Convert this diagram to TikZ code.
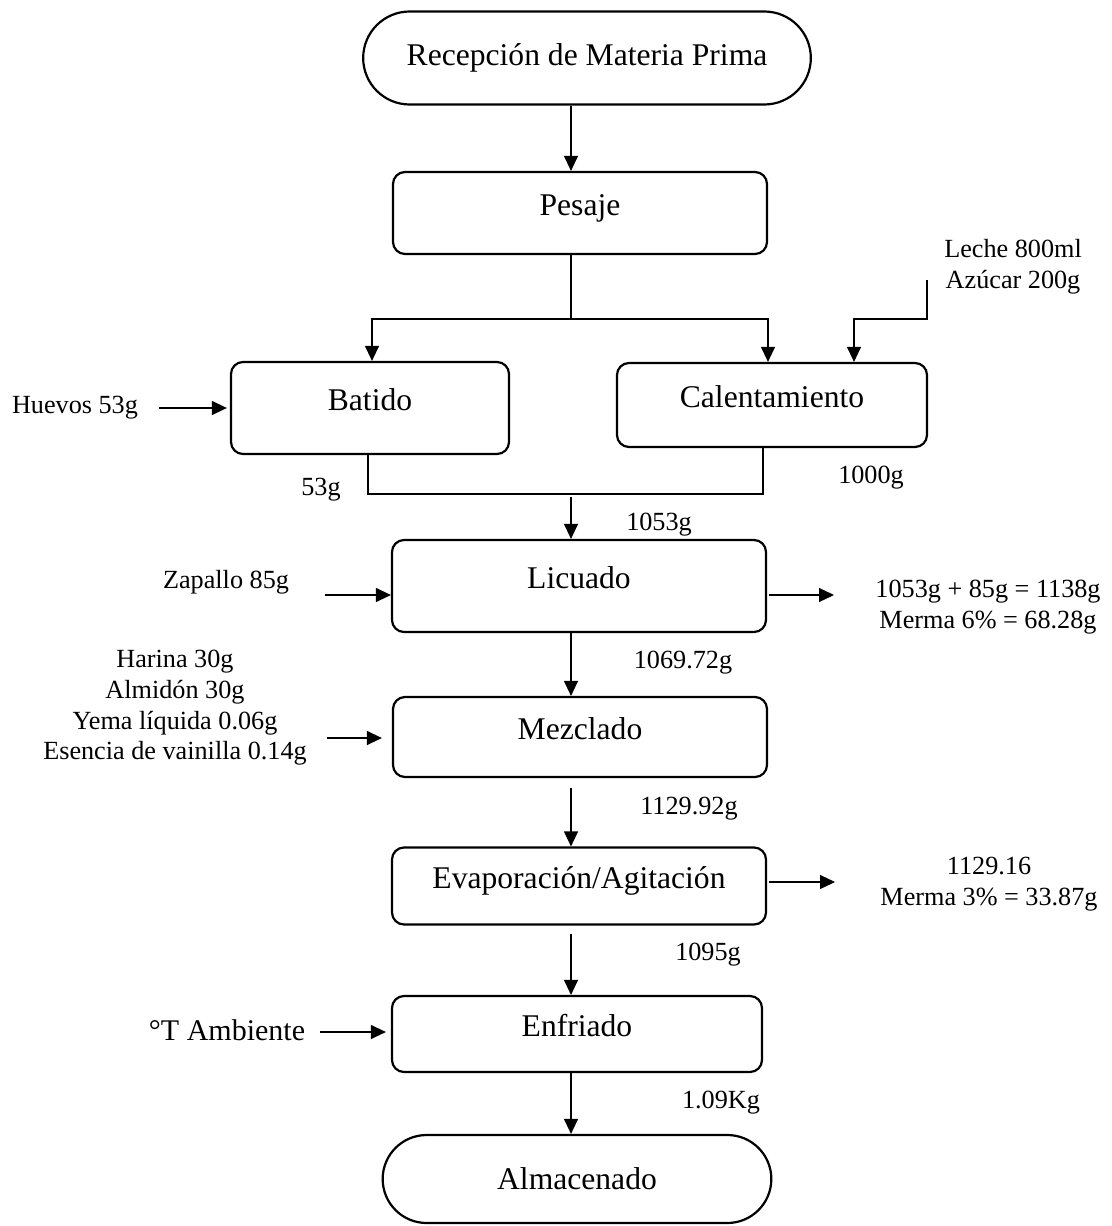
\documentclass[tikz,border=0pt]{standalone}
\usepackage{fontspec}
\setmainfont{Liberation Serif}
\usetikzlibrary{arrows.meta,calc,shapes.misc}

\begin{document}
\begin{tikzpicture}[x=0.5pt,y=-0.5pt,
 termbox/.style={draw,line width=1.1pt,rounded rectangle,minimum width=230.5pt,minimum height=46.5pt,font=\fontsize{15.8}{19}\selectfont},
 procbox/.style={draw,line width=1.1pt,rounded corners=6pt,minimum width=187pt,minimum height=41pt,text height=10.5pt,text depth=8pt,font=\fontsize{15.8}{19}\selectfont},
 notetext/.style={align=center,inner sep=0pt,font=\fontsize{13.1}{15.35}\selectfont},
 flowarrow/.style={-{Triangle[length=7.5pt,width=7pt]},line width=0.6pt},
 flowline/.style={line width=0.6pt}
]
\useasboundingbox (0,0) rectangle (1112,1226);
\node[termbox] (recep) at (587,58) {Recepción de Materia Prima};
\node[procbox] (pesaje) at (580,213) {Pesaje};
\node[procbox,minimum width=139pt,minimum height=46pt] (batido) at (370,408) {Batido};
\node[procbox,minimum width=155pt,minimum height=42pt] (calent) at (772,405) {Calentamiento};
\node[procbox,minimum height=46pt] (licuado) at (579,586) {Licuado};
\node[procbox,minimum height=40pt] (mezclado) at (580,737) {Mezclado};
\node[procbox,minimum height=38.5pt] (evap) at (579,886) {Evaporación/Agitación};
\node[procbox,minimum width=185pt,minimum height=38pt] (enfriado) at (577,1034) {Enfriado};
\node[termbox,minimum width=201pt,minimum height=44pt] (almac) at (577,1179) {Almacenado};
\node[notetext] (huevos) at (75,408) {Huevos 53g};
\node[notetext] (leche) at (1013,267) {Leche 800ml\\Azúcar 200g};
\node[notetext] (zapallo) at (226,582) {Zapallo 85g};
\node[notetext] (ingred) at (175,708) {Harina 30g\\Almidón 30g\\Yema líquida 0.06g\\Esencia de vainilla 0.14g};
\node[notetext,font=\fontsize{15}{18}\selectfont] (ambiente) at (227,1030) {°T Ambiente};
\node[notetext] (licmerma) at (988,607) {1053g + 85g = 1138g\\Merma 6\% = 68.28g};
\node[notetext] (evapmerma) at (989,884) {1129.16\\Merma 3\% = 33.87g};
\node[notetext] (w53) at (321,490) {53g};
\node[notetext] (w1000) at (871,478) {1000g};
\node[notetext] (w1053) at (659,525) {1053g};
\node[notetext] (w1069) at (683,663) {1069.72g};
\node[notetext] (w1129) at (689,809) {1129.92g};
\node[notetext] (w1095) at (708,955) {1095g};
\node[notetext] (w109) at (721,1103) {1.09Kg};
\coordinate (trunk) at (571,0);
\coordinate (split) at (571,319);
\coordinate (lechein) at (927,280);
\coordinate (lechebend) at (854,319);
\coordinate (merge) at (571,494);
\coordinate (huevin) at (159,408);
\coordinate (zapin) at (325,595);
\coordinate (ingin) at (327,738);
\coordinate (ambin) at (320,1032);
\coordinate (licout) at (834,595);
\coordinate (evapout) at (835,882);
\draw[flowarrow] (recep.south -| trunk) -- (pesaje.north -| trunk);
\draw[flowline] (pesaje.south -| trunk) -- (split);
\draw[flowarrow] (split) -| ([xshift=1pt]batido.north);
\draw[flowarrow] (split) -| ([xshift=-2pt]calent.north);
\draw[flowarrow] (lechein) |- (lechebend) -- (lechebend |- calent.north);
\draw[flowline] ([xshift=-1pt]batido.south) |- (merge) -| ([xshift=-4.5pt]calent.south);
\draw[flowarrow,shorten <=1.5pt] (merge) -- (licuado.north -| trunk);
\draw[flowarrow] (licuado.south -| trunk) -- (mezclado.north -| trunk);
\draw[flowarrow,shorten <=5pt] (mezclado.south -| trunk) -- (evap.north -| trunk);
\draw[flowarrow,shorten <=4pt] (evap.south -| trunk) -- (enfriado.north -| trunk);
\draw[flowarrow] (enfriado.south -| trunk) -- (almac.north -| trunk);
\draw[flowarrow,shorten >=1.5pt] (huevin) -- (huevin -| batido.west);
\draw[flowarrow] (zapin) -- (zapin -| licuado.west);
\draw[flowarrow,shorten >=5pt] (ingin) -- (ingin -| mezclado.west);
\draw[flowarrow,shorten >=2.5pt] (ambin) -- (ambin -| enfriado.west);
\draw[flowarrow,shorten <=1pt] (licout -| licuado.east) -- (licout);
\draw[flowarrow,shorten <=1pt] (evapout -| evap.east) -- (evapout);
\end{tikzpicture}
\end{document}
